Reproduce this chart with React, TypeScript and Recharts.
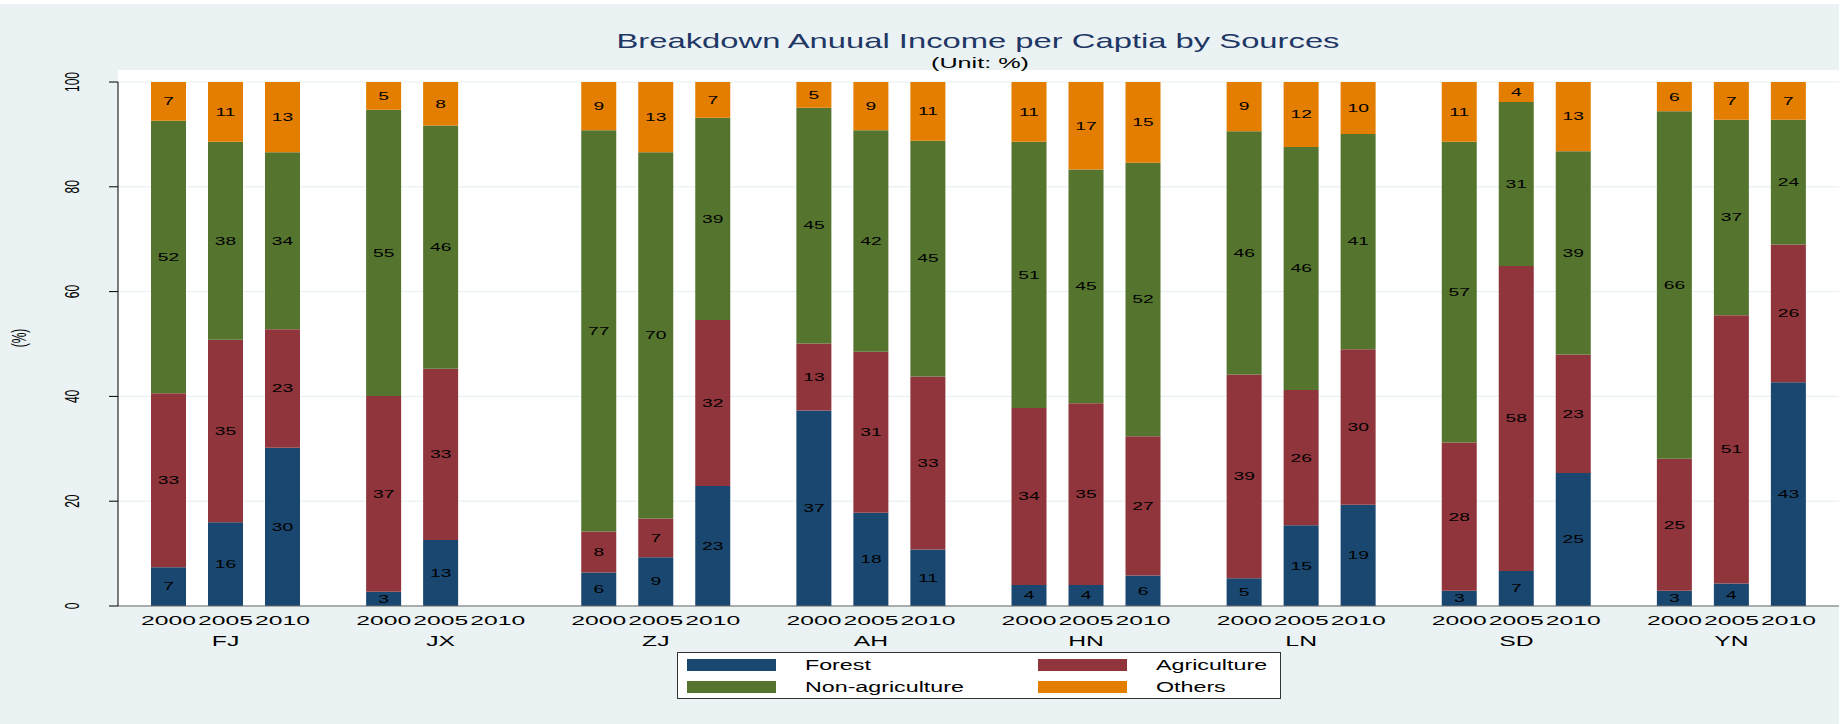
import React from 'react'
import { BarChart, Bar, XAxis, YAxis, CartesianGrid, LabelList } from 'recharts'

const provinces = ['FJ', 'JX', 'ZJ', 'AH', 'HN', 'LN', 'SD', 'YN']
const years = ['2000', '2005', '2010']
const yTicks = [0, 20, 40, 60, 80, 100]

// shares in %, one value per province (JX has no 2010 survey)
const forest2000 = [7.4, 2.7, 6.4, 37.3, 4.0, 5.3, 2.9, 2.9]
const forest2005 = [16.0, 12.6, 9.3, 17.8, 4.0, 15.4, 6.7, 4.3]
const forest2010 = [30.2, 0, 22.9, 10.8, 5.8, 19.3, 25.4, 42.7]

const agri2000 = [33.2, 37.4, 7.8, 12.8, 33.8, 38.9, 28.3, 25.2]
const agri2005 = [34.8, 32.7, 7.4, 30.7, 34.7, 25.8, 58.2, 51.2]
const agri2010 = [22.6, 0, 31.7, 33.0, 26.6, 29.7, 22.6, 26.3]

const nonAgri2000 = [52.0, 54.6, 76.6, 45.0, 50.8, 46.4, 57.4, 66.3]
const nonAgri2005 = [37.8, 46.4, 69.9, 42.3, 44.6, 46.4, 31.3, 37.3]
const nonAgri2010 = [33.8, 0, 38.6, 45.0, 52.2, 41.1, 38.8, 23.8]

const others2000 = [7.4, 5.3, 9.2, 4.9, 11.4, 9.4, 11.4, 5.6]
const others2005 = [11.4, 8.3, 13.4, 9.2, 16.7, 12.4, 3.8, 7.2]
const others2010 = [13.4, 0, 6.8, 11.2, 15.4, 9.9, 13.2, 7.2]

const series = [
  { key: 'forest', name: 'Forest', color: '#1a476f', values: [forest2000, forest2005, forest2010] },
  { key: 'agri', name: 'Agriculture', color: '#90353b', values: [agri2000, agri2005, agri2010] },
  { key: 'nonagri', name: 'Non-agriculture', color: '#55752f', values: [nonAgri2000, nonAgri2005, nonAgri2010] },
  { key: 'others', name: 'Others', color: '#e37e00', values: [others2000, others2005, others2010] },
]

const chartData = provinces.map((p, i) => {
  const row: Record<string, string | number> = { province: p }
  years.forEach((y, yi) => {
    series.forEach((s) => {
      row[`${s.key}_${y}`] = s.values[yi][i]
    })
  })
  return row
})

const FONT = '"Liberation Sans", Arial, Helvetica, sans-serif'
const BAR_SIZE = 35
const BAR_GAP = 22
const BG = '#eaf2f3'

const InnerLabel = (props: any) => {
  const { x, y, width, height, value } = props
  if (!value) return null
  return (
    <text
      transform={`translate(${x + width / 2},${y + height / 2}) scale(1.75,1)`}
      textAnchor="middle"
      dominantBaseline="central"
      fontSize={11}
      fontFamily={FONT}
      fill="#000"
    >
      {Math.round(value)}
    </text>
  )
}

const ProvinceTick = (props: any) => {
  const { x, y, payload } = props
  return (
    <g>
      {years.map((yr, i) => (
        <text
          key={yr}
          transform={`translate(${x + (i - 1) * (BAR_SIZE + BAR_GAP)},${y + 12}) scale(1.9,1)`}
          textAnchor="middle"
          dominantBaseline="central"
          fontSize={13}
          fontFamily={FONT}
          fill="#000"
        >
          {yr}
        </text>
      ))}
      <text
        transform={`translate(${x},${y + 33}) scale(1.65,1)`}
        textAnchor="middle"
        dominantBaseline="central"
        fontSize={15}
        fontFamily={FONT}
        fill="#000"
      >
        {payload.value}
      </text>
    </g>
  )
}

const PctTick = (props: any) => {
  const { x, y, payload } = props
  return (
    <text
      transform={`translate(${x - 35},${y}) scale(1.7,1) rotate(-90)`}
      textAnchor="middle"
      dominantBaseline="central"
      fontSize={12}
      fontFamily={FONT}
      fill="#000"
    >
      {payload.value}
    </text>
  )
}

export default function App() {
  return (
    <div style={{ position: 'fixed', left: 0, top: 0, width: 1845, height: 724, background: '#fff', fontFamily: FONT, overflow: 'hidden' }}>
      <div style={{ position: 'absolute', left: 0, top: 4, width: 1839, height: 720, background: BG }} />
      <div style={{ position: 'absolute', left: 118, top: 70, width: 1721, height: 536, background: '#fff' }} />

      <div style={{ position: 'absolute', left: 978, top: 30, fontSize: 21, lineHeight: '21px', color: '#1e3765', whiteSpace: 'nowrap', transform: 'translateX(-50%) scaleX(1.56)' }}>
        Breakdown Anuual Income per Captia by Sources
      </div>
      <div style={{ position: 'absolute', left: 980, top: 56, fontSize: 14, lineHeight: '14px', color: '#000', whiteSpace: 'nowrap', transform: 'translateX(-50%) scaleX(1.8)' }}>
        (Unit: %)
      </div>
      <div style={{ position: 'absolute', left: 19, top: 338, fontSize: 12, lineHeight: '12px', color: '#000', whiteSpace: 'nowrap', transform: 'translate(-50%,-50%) scaleX(1.7) rotate(-90deg)' }}>
        (%)
      </div>

      <div style={{ position: 'absolute', left: 0, top: 0 }}>
        <BarChart
          width={1845}
          height={724}
          data={chartData}
          margin={{ top: 82, right: 6, bottom: 0, left: 0 }}
          barSize={BAR_SIZE}
          barGap={BAR_GAP}
        >
          <CartesianGrid vertical={false} stroke="#e4eef0" />
          <XAxis
            dataKey="province"
            height={118}
            tickLine={false}
            tickSize={0}
            axisLine={{ stroke: '#666' }}
            tick={<ProvinceTick />}
            interval={0}
          />
          <YAxis
            width={118}
            domain={[0, 100]}
            allowDataOverflow
            ticks={yTicks}
            tickSize={9}
            axisLine={{ stroke: '#000' }}
            tickLine={{ stroke: '#000' }}
            tick={<PctTick />}
          />
          {years.map((yr) =>
            series.map((s) => (
              <Bar
                key={`${s.key}_${yr}`}
                dataKey={`${s.key}_${yr}`}
                name={s.name}
                stackId={yr}
                fill={s.color}
                isAnimationActive={false}
              >
                <LabelList dataKey={`${s.key}_${yr}`} content={<InnerLabel />} />
              </Bar>
            ))
          )}
        </BarChart>
      </div>

      <div style={{ position: 'absolute', left: 677, top: 652, width: 602, height: 45, border: '1px solid #333', background: '#fff' }}>
        {series.map((s, i) => {
          const col = i % 2
          const row = Math.floor(i / 2)
          return (
            <React.Fragment key={s.key}>
              <div style={{ position: 'absolute', left: 9 + col * 351, top: 6 + row * 22, width: 89, height: 12, background: s.color }} />
              <div style={{ position: 'absolute', left: 127 + col * 351, top: 5 + row * 22, fontSize: 14, lineHeight: '14px', color: '#000', whiteSpace: 'nowrap', transformOrigin: 'left center', transform: 'scaleX(1.66)' }}>
                {s.name}
              </div>
            </React.Fragment>
          )
        })}
      </div>
    </div>
  )
}
